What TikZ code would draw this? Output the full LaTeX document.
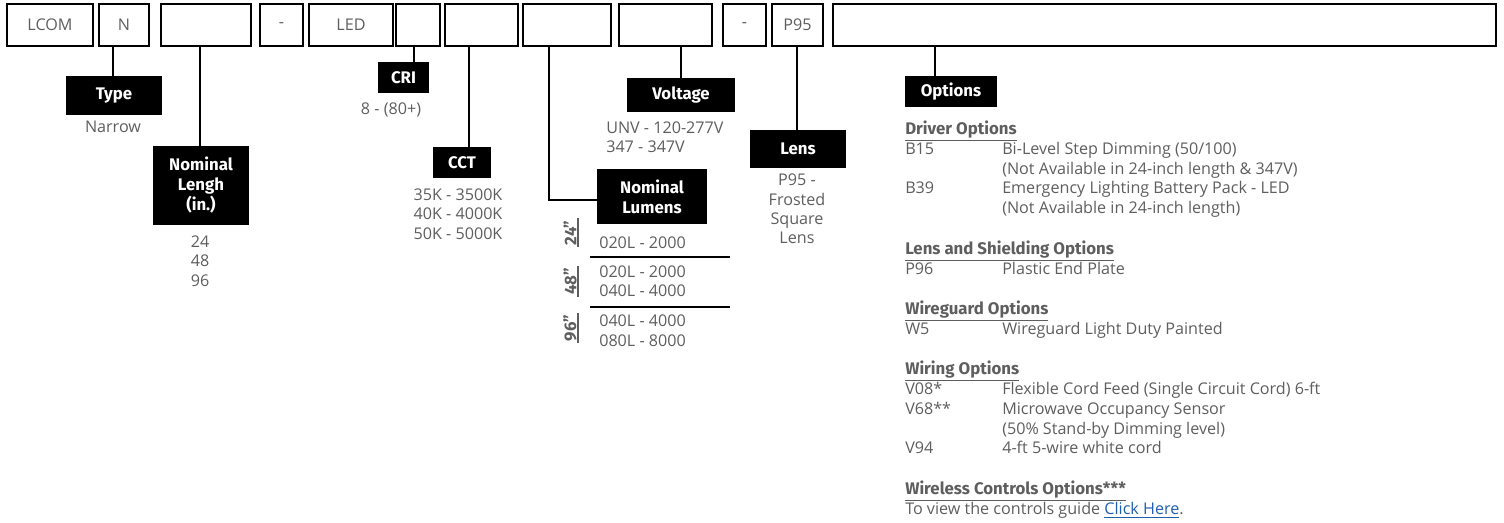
\documentclass[tikz,border=0pt]{standalone}
\usepackage{fontspec}
\setmainfont{Open Sans}
\newfontfamily\labfont{Fira Sans}
\usetikzlibrary{calc}
\definecolor{valgray}{HTML}{5E5E5E}
\definecolor{linkblue}{HTML}{1F5FAF}
\newcommand\vf{\fontsize{12.1}{14.6}\selectfont}
\newcommand\lf{\fontsize{12.6}{15}\selectfont\labfont\bfseries}
\begin{document}
\begin{tikzpicture}[x=0.75pt,y=-0.75pt,
  topbox/.style={draw=black, line width=0.9pt, inner sep=0, text=valgray, font=\vf},
  lab/.style={fill=black, text=white, font=\lf, align=center, inner sep=0},
  val/.style={text=valgray, font=\vf, align=center, inner sep=0},
  conn/.style={draw=black, line width=0.9pt},
  optt/.style={text=valgray, font=\vf, anchor=base west, inner sep=0},
  opth/.style={text=valgray, font=\lf, anchor=base west, inner sep=0},
  tbl/.style={draw=black, line width=0.9pt},
  bar/.style={draw=valgray, line width=0.9pt},
  rot/.style={text=valgray, font=\lf, rotate=90, inner sep=0}
]
\useasboundingbox (0,0) rectangle (1504,523);
% top boxes
\node[topbox, minimum width=86*0.75pt, minimum height=42*0.75pt] (b1) at (50,25) {LCOM};
\node[topbox, minimum width=50*0.75pt, minimum height=42*0.75pt] (b2) at (124,25) {N};
\node[topbox, minimum width=90*0.75pt, minimum height=42*0.75pt] (b3) at (206,25) {};
\node[topbox, minimum width=43*0.75pt, minimum height=42*0.75pt] (b4) at (281.5,25) {-};
\node[topbox, minimum width=84*0.75pt, minimum height=42*0.75pt] (b5) at (351,25) {LED};
\node[topbox, minimum width=44*0.75pt, minimum height=42*0.75pt] (b6) at (418,25) {};
\node[topbox, minimum width=73*0.75pt, minimum height=42*0.75pt] (b7) at (481.5,25) {};
\node[topbox, minimum width=88*0.75pt, minimum height=42*0.75pt] (b8) at (567,25) {};
\node[topbox, minimum width=93*0.75pt, minimum height=42*0.75pt] (b9) at (665.5,25) {};
\node[topbox, minimum width=43*0.75pt, minimum height=42*0.75pt] (b10) at (744.5,25) {-};
\node[topbox, minimum width=51*0.75pt, minimum height=42*0.75pt] (b11) at (797.5,25) {P95};
\node[topbox, minimum width=663*0.75pt, minimum height=42*0.75pt] (b12) at (1164.5,25) {};

% labels
\node[lab, minimum width=96*0.75pt, minimum height=39*0.75pt] (ltype) at (114,95.5) {Type};
\node[val] (vtype) at (113,127) {Narrow};
\draw[conn] ([xshift=-1*0.75pt]ltype.north) -- ([xshift=-1*0.75pt]ltype.north |- b2.south);

\node[lab, minimum width=96*0.75pt, minimum height=79*0.75pt] (llen) at (201,185.5) {Nominal\\Lengh\\(in.)};
\node[val] (vlen) at (200,261) {24\\48\\96};
\draw[conn] ([xshift=-1*0.75pt]llen.north) -- ([xshift=-1*0.75pt]llen.north |- b3.south);

\node[lab, minimum width=51*0.75pt, minimum height=31*0.75pt] (lcri) at (403.5,77.5) {CRI};
\node[val] (vcri) at (391,110) {8 - (80+)};
\draw[conn] ([xshift=-4*0.75pt]b6.south) -- ([xshift=-4*0.75pt]b6.south |- lcri.north);

\node[lab, minimum width=58*0.75pt, minimum height=31*0.75pt] (lcct) at (462,162.5) {CCT};
\node[val] (vcct) at (458,214) {35K - 3500K\\40K - 4000K\\50K - 5000K};
\draw[conn] ([xshift=-12.5*0.75pt]b7.south) -- ([xshift=-12.5*0.75pt]b7.south |- lcct.north);

\node[lab, minimum width=110*0.75pt, minimum height=55*0.75pt] (llum) at (652,196.5) {Nominal\\Lumens};
\draw[conn] ([xshift=-18*0.75pt]b8.south) |- ([yshift=-3.5*0.75pt]llum.west);

% lumens table
\node[rot] (r24) at (570,233) {24”};
\node[rot] (r48) at (570,281.5) {48”};
\node[rot] (r96) at (570,328) {96”};
\draw[bar] (578,218) -- (578,247);
\draw[bar] (578,266) -- (578,297);
\draw[bar] (578,313) -- (578,343);
\node[val, anchor=west] (l24) at (599,243) {020L - 2000};
\node[val, anchor=west, align=left] (l48) at (599,281.5) {020L - 2000\\040L - 4000};
\node[val, anchor=west, align=left] (l96) at (599,330.5) {040L - 4000\\080L - 8000};
\draw[tbl] (590,257) -- (730,257);
\draw[tbl] (590,307) -- (730,307);

\node[lab, minimum width=108*0.75pt, minimum height=34*0.75pt] (lvol) at (681,95) {Voltage};
\node[val, anchor=west, align=left] (vvol) at (606,137.5) {UNV - 120-277V\\347 - 347V};
\draw[conn] (lvol.north) -- (lvol.north |- b9.south);

\node[lab, minimum width=96*0.75pt, minimum height=38*0.75pt] (llens) at (798,149) {Lens};
\node[val] (vlens) at (797,209) {P95 -\\Frosted\\Square\\Lens};
\draw[conn] ([xshift=-1*0.75pt]llens.north) -- ([xshift=-1*0.75pt]llens.north |- b11.south);

\node[lab, minimum width=92*0.75pt, minimum height=31*0.75pt] (lopt) at (951,91.5) {Options};
\draw[conn] ([xshift=-16*0.75pt]lopt.north) -- ([xshift=-16*0.75pt]lopt.north |- b12.south);

% options list
\node[opth] (h1) at (905,135) {\underline{Driver Options}};
\node[optt] (c1) at (905,155) {B15};
\node[optt] (d1) at (1002,155) {Bi-Level Step Dimming (50/100)};
\node[optt] (d1b) at (1002,174.5) {(Not Available in 24-inch length \& 347V)};
\node[optt] (c2) at (905,194) {B39};
\node[optt] (d2) at (1002,194) {Emergency Lighting Battery Pack - LED};
\node[optt] (d2b) at (1002,213.5) {(Not Available in 24-inch length)};
\node[opth] (h2) at (905,255) {\underline{Lens and Shielding Options}};
\node[optt] (c3) at (905,275) {P96};
\node[optt] (d3) at (1002,275) {Plastic End Plate};
\node[opth] (h3) at (905,315) {\underline{Wireguard Options}};
\node[optt] (c4) at (905,335) {W5};
\node[optt] (d4) at (1002,335) {Wireguard Light Duty Painted};
\node[opth] (h4) at (905,375) {\underline{Wiring Options}};
\node[optt] (c5) at (905,395) {V08*};
\node[optt] (d5) at (1002,395) {Flexible Cord Feed (Single Circuit Cord) 6-ft};
\node[optt] (c6) at (905,415) {V68**};
\node[optt] (d6) at (1002,415) {Microwave Occupancy Sensor};
\node[optt] (d6b) at (1002,435) {(50\% Stand-by Dimming level)};
\node[optt] (c7) at (905,454) {V94};
\node[optt] (d7) at (1002,454) {4-ft 5-wire white cord};
\node[opth] (h5) at (905,495) {\underline{Wireless Controls Options***}};
\node[optt] (t5) at (905,515) {To view the controls guide \textcolor{linkblue}{\underline{Click Here}}.};
\end{tikzpicture}
\end{document}
